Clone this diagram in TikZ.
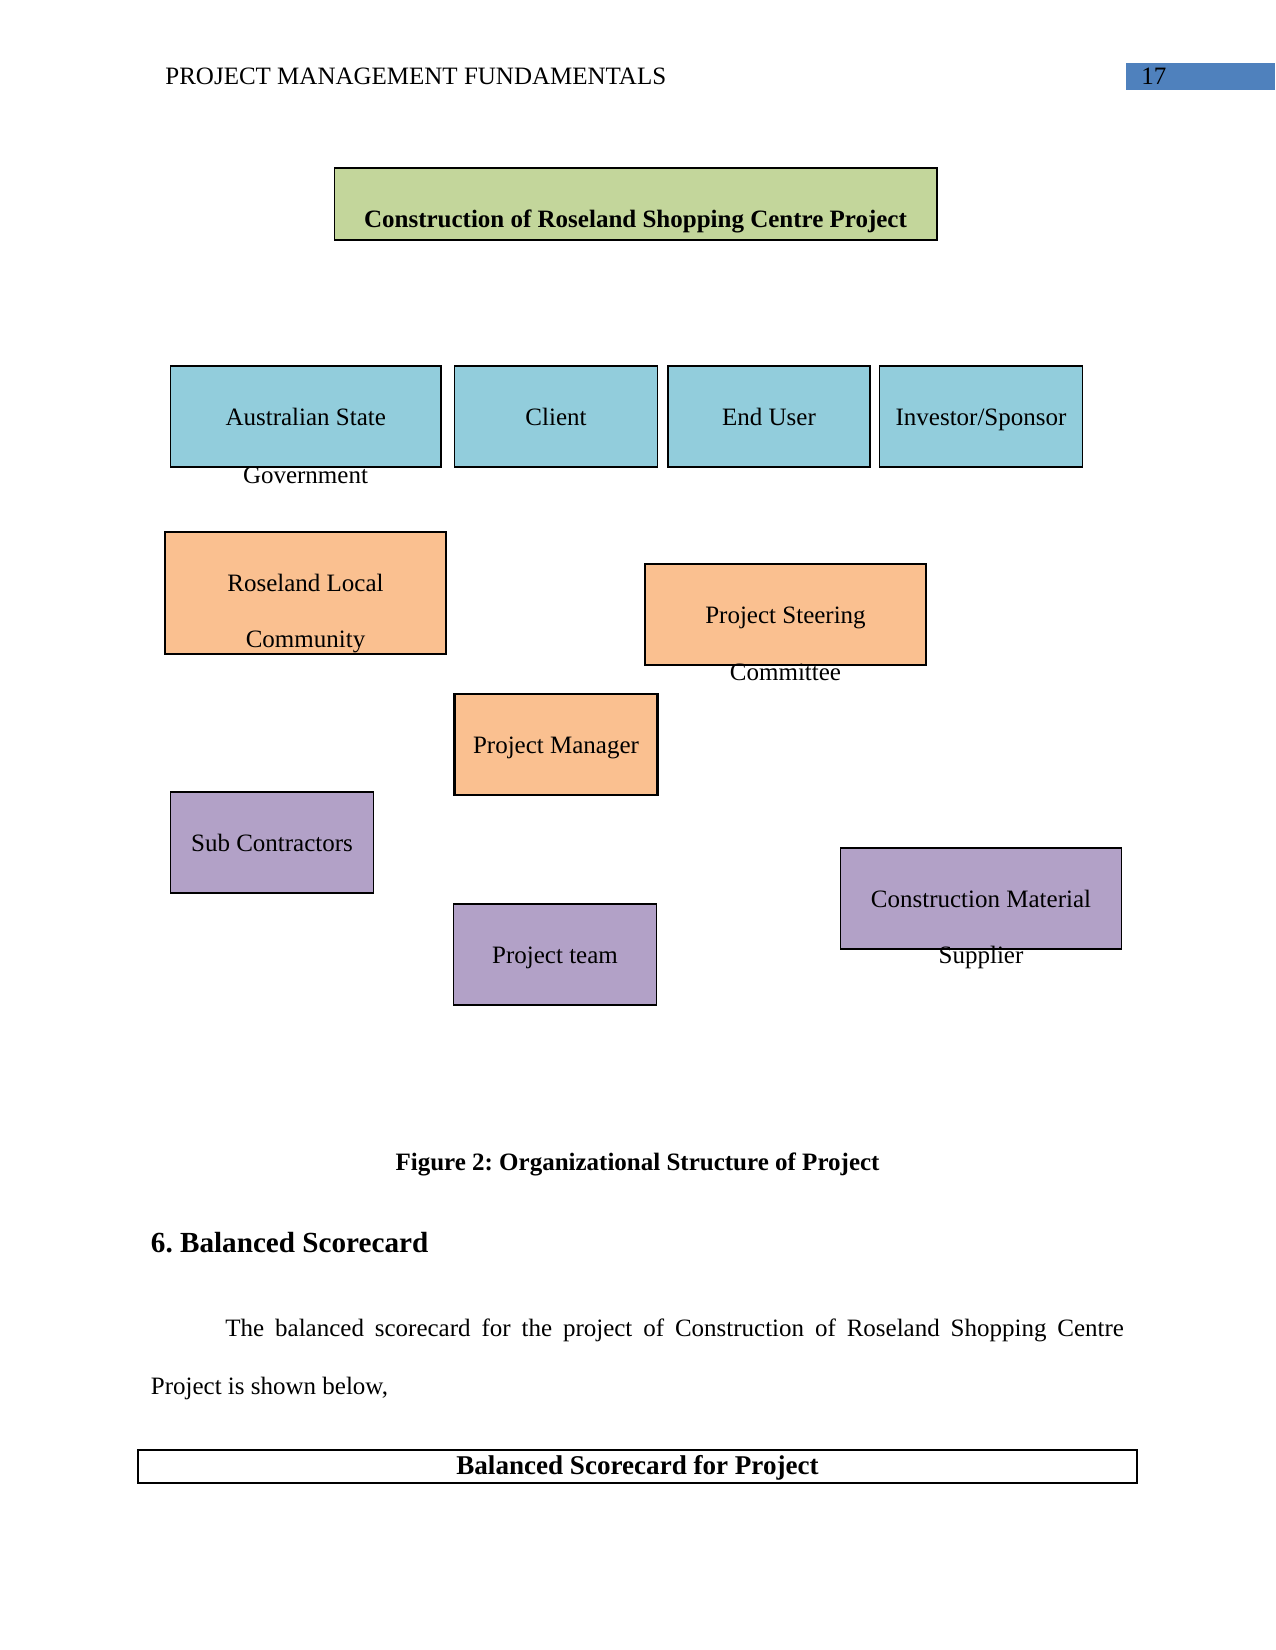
\documentclass[tikz,border=0pt]{standalone}
\usepackage{fontspec}
\setmainfont{Liberation Serif}
\usepackage{tikz}
\usetikzlibrary{fit}
\usepackage{xcolor}
\frenchspacing
\definecolor{pageblue}{RGB}{79,129,189}
\definecolor{titlegreen}{RGB}{195,214,155}
\definecolor{stakeblue}{RGB}{146,205,220}
\definecolor{stakeorange}{RGB}{250,192,144}
\definecolor{stakepurple}{RGB}{178,161,199}
\tikzset{
  box/.style={rectangle, draw=black, line width=0.8pt, inner sep=0pt},
  boxgreen/.style={box, fill=titlegreen},
  boxblue/.style={box, fill=stakeblue},
  boxorange/.style={box, fill=stakeorange},
  boxpurple/.style={box, fill=stakepurple},
  plain/.style={inner sep=0pt, font=\fontsize{12}{14}\selectfont},
  plainbold/.style={plain, font=\fontsize{12}{14}\selectfont\bfseries},
  boxtext/.style={plain, anchor=base, yshift=-4.1pt},
}

\begin{document}
\begin{tikzpicture}[x=0.48pt,y=-0.48pt]
\useasboundingbox (0,0) rectangle (1275,1650);
% page header
\node[plain, anchor=base west] (header) at (165,85) {PROJECT MANAGEMENT FUNDAMENTALS};
\node[fill=pageblue, inner sep=0pt, fit={(1126,63) (1275,90)}] (pagebox) {};
\node[plain, anchor=base west] (pagenum) at (1141,85) {17};
% title
\node[boxgreen, fit={(334.5,168) (937,240)}] (project) {};
\node[plainbold, anchor=base] (projectname) at (635.5,228) {Construction of Roseland Shopping Centre Project};
% stakeholders, first row
\node[boxblue, fit={(170.5,366) (441,467)}] (gov) {};
\node[boxtext] (govline1) at (gov.center) {Australian State};
\node[plain, anchor=base] (govline2) at (305.5,483) {Government};
\node[boxblue, fit={(454.5,366) (657.5,467)}] (client) {};
\node[boxtext] (clientline) at (client.center) {Client};
\node[boxblue, fit={(668,366) (870,467)}] (enduser) {};
\node[boxtext] (enduserline) at (enduser.center) {End User};
\node[boxblue, fit={(879.5,366) (1082.5,467)}] (investor) {};
\node[boxtext] (investorline) at (investor.center) {Investor/Sponsor};
% management
\node[boxorange, fit={(165,532) (446,654)}] (community) {};
\node[plain, anchor=base] (communityline1) at (305.5,591) {Roseland Local};
\node[plain, anchor=base] (communityline2) at (305.5,647) {Community};
\node[boxorange, line width=1.3pt, fit={(645,564) (926,665)}] (steering) {};
\node[boxtext] (steeringline1) at (steering.center) {Project Steering};
\node[plain, anchor=base] (steeringline2) at (785.5,680) {Committee};
\node[boxorange, line width=1.3pt, fit={(454.5,694) (657.5,795)}] (manager) {};
\node[boxtext] (managerline) at (manager.center) {Project Manager};
% delivery
\node[boxpurple, fit={(170.5,792) (373.5,893)}] (subcon) {};
\node[boxtext] (subconline) at (subcon.center) {Sub Contractors};
\node[boxpurple, fit={(453.5,904) (656.5,1005)}] (team) {};
\node[boxtext] (teamline) at (team.center) {Project team};
\node[boxpurple, fit={(840.5,848) (1121.5,949)}] (supplier) {};
\node[boxtext] (supplierline1) at (supplier.center) {Construction Material};
\node[plain, anchor=base] (supplierline2) at (981,963) {Supplier};
% caption and text
\node[plainbold, anchor=base] (caption) at (637.5,1170) {Figure 2: Organizational Structure of Project};
\node[inner sep=0pt, anchor=base west, font=\fontsize{14}{16}\selectfont\bfseries] (section) at (150.5,1252) {6. Balanced Scorecard};
\node[plain, anchor=base west] (para1) at (225,1336)
  {\makebox[431.3pt][s]{The balanced scorecard for the project of Construction of Roseland Shopping Centre}};
\node[plain, anchor=base west] (para2) at (150.5,1394) {Project is shown below,};
\node[box, line width=0.6pt, fit={(138,1450) (1137,1483)}] (scoretable) {};
\node[inner sep=0pt, anchor=base, font=\fontsize{13}{15}\selectfont\bfseries] (scoretitle) at (637.5,1474) {Balanced Scorecard for Project};
\end{tikzpicture}
\end{document}
